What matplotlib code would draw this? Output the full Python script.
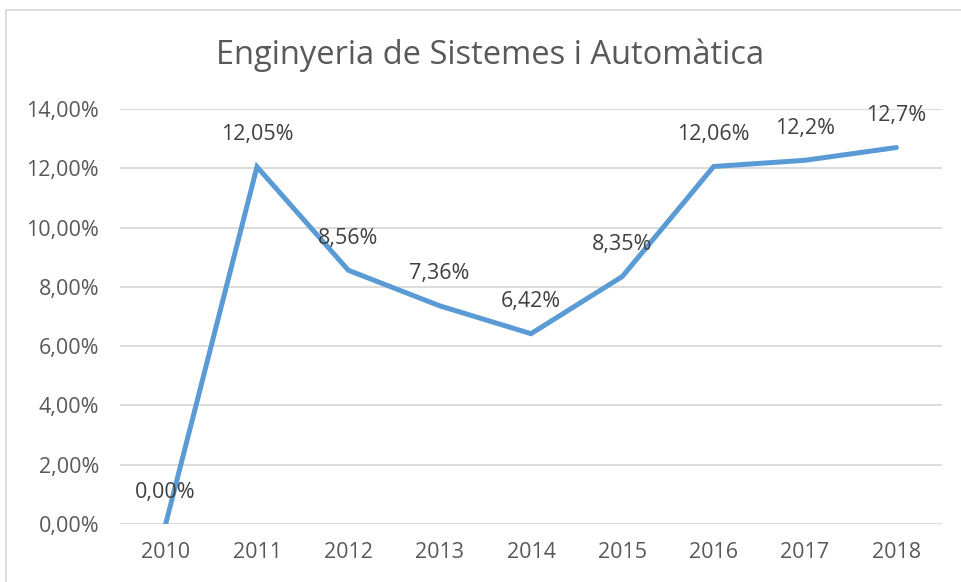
import matplotlib
matplotlib.use("Agg")
import matplotlib.pyplot as plt
from matplotlib.ticker import FuncFormatter
from matplotlib.lines import Line2D

years = ["2010", "2011", "2012", "2013", "2014", "2015", "2016", "2017", "2018"]
values = [0.0, 12.05, 8.56, 7.36, 6.42, 8.35, 12.06, 12.27, 12.70]
labels = ["0,00%", "12,05%", "8,56%", "7,36%", "6,42%", "8,35%", "12,06%", "12,2%", "12,7%"]
title = "Enginyeria de Sistemes i Automàtica"

txt = "#595959"
plt.rcParams["font.family"] = ["Open Sans", "DejaVu Sans"]

fig = plt.figure(figsize=(9.61, 5.82), dpi=100)
ax = fig.add_axes([120/961, 1-524/582, (942-120)/961, (524-109)/582])

x = list(range(len(years)))
ax.plot(x, values, color="#5B9BD5", lw=3.6, solid_capstyle="round", solid_joinstyle="miter", zorder=3)
for xi, v, lab in zip(x, values, labels):
    ax.annotate(lab, (xi, v), xytext=(0, 23), textcoords="offset points",
                ha="center", va="center", fontsize=15.5, color="#404040", zorder=4)

ax.set_xlim(-0.5, len(years) - 0.5)
ax.set_ylim(0, 14)
ax.set_yticks(range(0, 15, 2))
ax.yaxis.set_major_formatter(FuncFormatter(lambda v, p: f"{v:.2f}".replace(".", ",") + "%"))
ax.set_xticks(x)
ax.set_xticklabels(years)
ax.tick_params(axis="both", length=0, labelsize=15.5, labelcolor=txt)
ax.tick_params(axis="x", pad=13)
ax.tick_params(axis="y", pad=15)
ax.grid(axis="y", color="#D9D9D9", lw=1.3)
ax.set_axisbelow(True)
for s in ax.spines.values():
    s.set_visible(False)

fig.text(490/961, 1-55/582, title, ha="center", va="center", fontsize=23.5, color=txt)

# chart border (top and left visible)
fig.add_artist(Line2D([6/961, 1], [1-10/582, 1-10/582], transform=fig.transFigure, color="#D9D9D9", lw=1.2))
fig.add_artist(Line2D([6/961, 6/961], [0, 1-10/582], transform=fig.transFigure, color="#D9D9D9", lw=1.2))

fig.savefig("out.png", dpi=100)
